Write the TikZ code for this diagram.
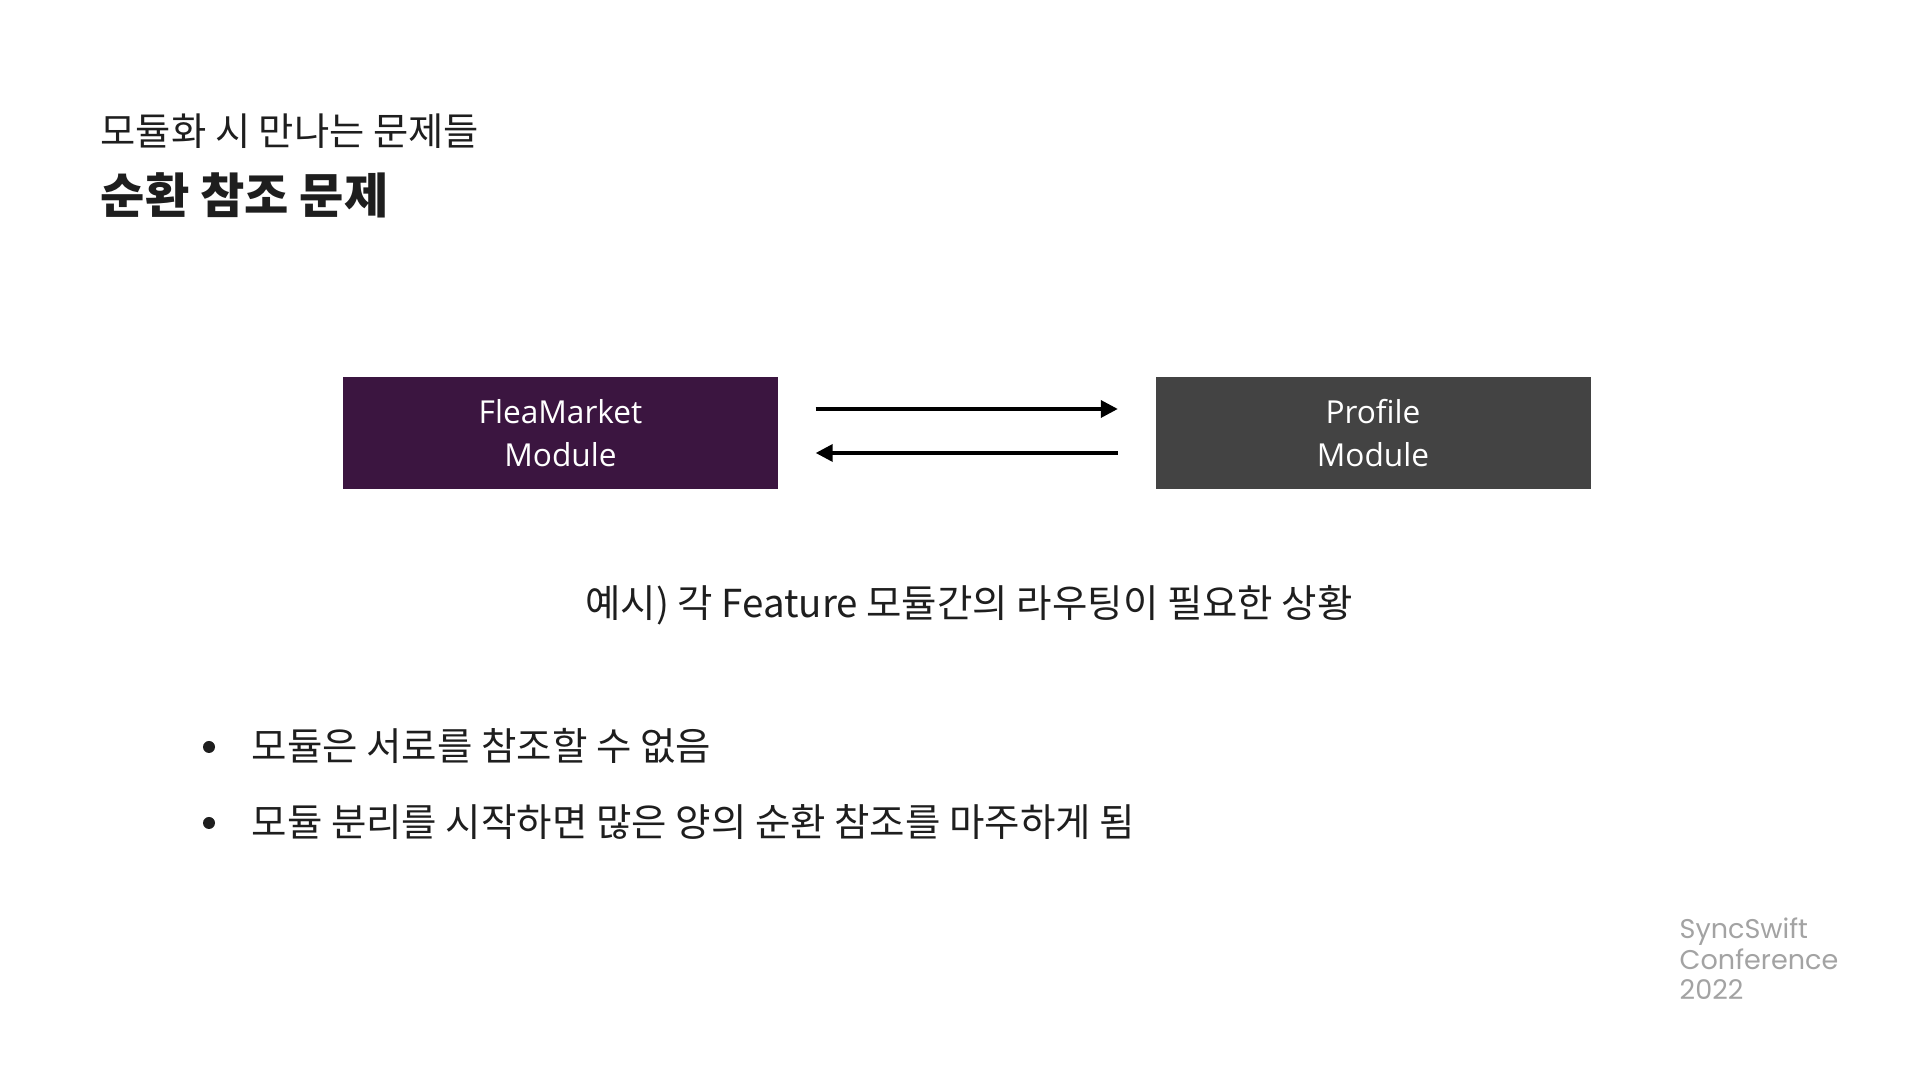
\documentclass[tikz,border=0pt]{standalone}
\usepackage{xcolor}
\usepackage{tikz}
\usepackage{fontspec}
\usetikzlibrary{arrows.meta, positioning, calc}
\setmainfont{Noto Sans CJK KR}
\newfontfamily\boxfont{Open Sans}
\newfontfamily\logofont{Poppins}
\definecolor{fleapurple}{HTML}{3B1540}
\definecolor{profilegray}{HTML}{434343}
\definecolor{inkdark}{HTML}{1E1E1E}
\definecolor{logogray}{HTML}{A3A3A3}
\tikzstyle{module} = [rectangle, minimum width=4.35cm, minimum height=1.12cm, inner sep=0pt, align=center, text=white, font=\boxfont\fontsize{9}{12.2}\selectfont]
\tikzstyle{bodytext} = [anchor=west, inner sep=0pt, text=inkdark, font=\fontsize{10.95}{13}\selectfont]
\tikzstyle{bulletdot} = [circle, fill=inkdark, inner sep=0pt, minimum size=0.12cm]
\tikzstyle{arrow} = [line width=1pt, -{Triangle[length=0.17cm, width=0.17cm]}, color=black, shorten >=0.37cm, shorten <=0.37cm]

\begin{document}
\begin{tikzpicture}
    \useasboundingbox[fill=white] (0,0) rectangle (19.2,10.8);
    % Title
    \node[bodytext, font=\fontsize{10.9}{13}\selectfont] (subtitle) at (1.00,9.49) {모듈화 시 만나는 문제들};
    \node[bodytext, font=\bfseries\fontsize{13.7}{15}\selectfont] (title) at (1.00,8.85) {순환 참조 문제};
    
    % Modules
    \node[module, fill=fleapurple] (flea) at (5.605,6.47) {FleaMarket\\Module};
    \node[module, fill=profilegray] (profile) at (13.73,6.47) {Profile\\Module};
    
    % Arrows
    \draw[arrow] ([yshift=0.24cm]flea.east) -- ([yshift=0.24cm]profile.west);
    \draw[arrow] ([yshift=-0.20cm]profile.west) -- ([yshift=-0.20cm]flea.east);
    
    % Caption
    \node[inner sep=0pt, text=inkdark, font=\fontsize{10.95}{13}\selectfont] (example) at (9.69,4.75) {예시) 각 Feature 모듈간의 라우팅이 필요한 상황};
    
    % Bullets
    \node[bulletdot] (dot1) at (2.09,3.33) {};
    \node[bodytext] (item1) at (2.51,3.34) {모듈은 서로를 참조할 수 없음};
    \node[bulletdot] (dot2) at (2.09,2.57) {};
    \node[bodytext] (item2) at (2.51,2.58) {모듈 분리를 시작하면 많은 양의 순환 참조를 마주하게 됨};
    
    % Logo
    \node[anchor=west, inner sep=0pt, align=left, text=logogray, font=\logofont\fontsize{7.7}{8.7}\selectfont] (logo) at (16.79,1.21) {SyncSwift\\Conference\\2022};
\end{tikzpicture}
\end{document}
